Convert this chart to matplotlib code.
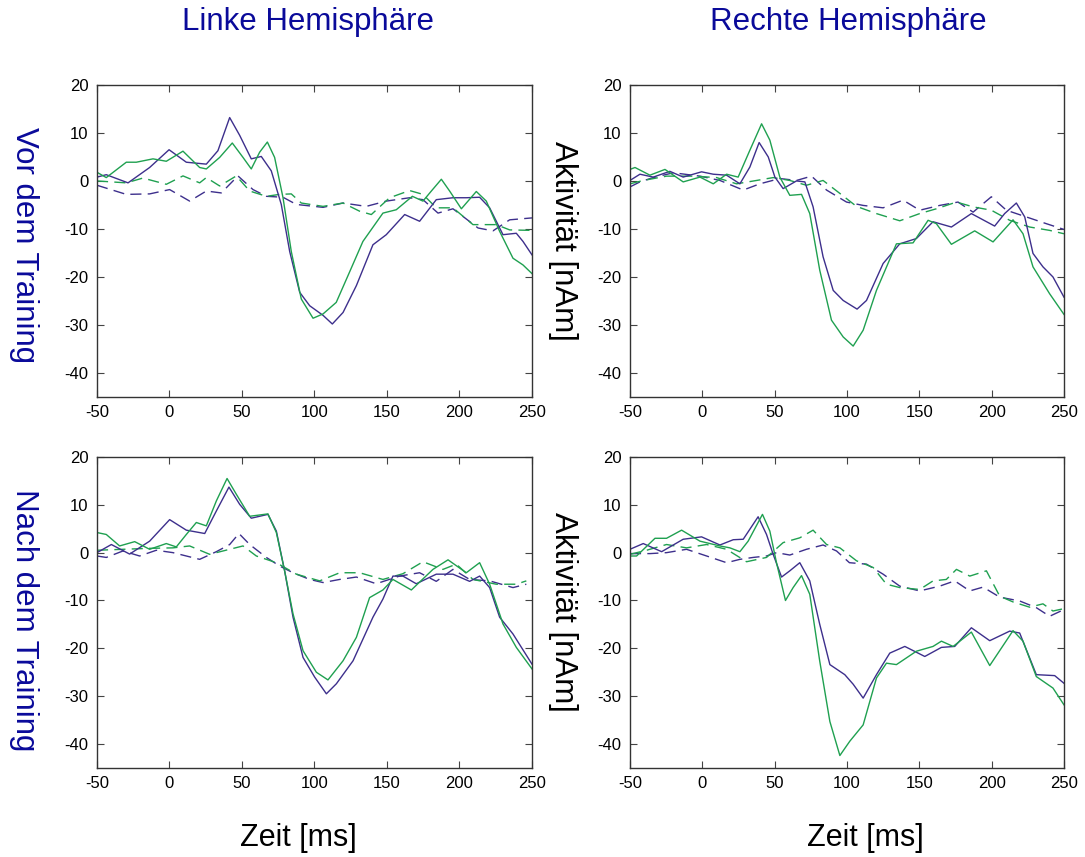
import matplotlib
matplotlib.use('Agg')
import matplotlib.pyplot as plt

plt.rcParams['font.family'] = ['Liberation Sans', 'DejaVu Sans']
plt.rcParams['axes.unicode_minus'] = False

# colours of the two conditions
purple = '#3d2f8c'
green = '#1fa050'
title_blue = '#0a0a9a'

# ---- top left: linke Hemisphaere, vor dem Training ----
tl_p_t = [-50, -43.6, -28.6, -13.7, -0.3, 11.6, 25.4, 33.4, 41.5, 48.4, 56.4, 63.3, 70.2, 77.1, 82.9, 89.8, 96.7,
          105.9, 112.3, 119.7, 128.9, 140.3, 149.5, 162.2, 172.5, 184, 195.5, 204.7, 213.9, 220.8, 230, 239.2, 243.8, 250]
tl_p_v = [0.8, 1.3, -0.4, 2.8, 6.5, 3.9, 3.5, 6.3, 13.2, 9.5, 4.6, 5.1, 2.1, -4.9, -14.7, -23.2, -26,
          -28, -29.8, -27.4, -21.8, -13.3, -11.2, -7, -8.4, -3.9, -3.5, -3.5, -3.4, -5.6, -11.2, -10.9, -12.6, -15.4]
tl_g_t = [-50, -43.6, -29.8, -22.9, -11.4, -2.2, 9.3, 20.8, 25.4, 34.6, 43.3, 50.7, 56.4, 62.2, 67.5, 72.5, 78.3,
          84, 90.9, 99, 105.9, 115, 124.3, 133.4, 147.2, 156.4, 167.5, 174.8, 180.6, 187.5, 193.2, 201.3, 211.6,
          218.5, 227.7, 236.9, 243.8, 250]
tl_g_v = [1.8, 0.7, 3.9, 3.9, 4.6, 4.1, 6.2, 2.8, 2.5, 4.9, 7.9, 4.9, 2.5, 6, 8.1, 4.9, -3.5,
          -14.7, -24.6, -28.6, -27.7, -25.3, -18.9, -12.6, -6.7, -6, -3.2, -4.2, -2.1, 0.35, -2.1, -5.8, -2.2,
          -4.2, -10.5, -16.1, -17.5, -19.3]
tl_pd_t = [-50, -29.8, -13.7, 0.1, 13.9, 25.4, 35.7, 47.2, 57.6, 66.8, 78.3, 87.5, 105.9, 119.7, 135.7, 149.5,
           165.6, 174.8, 185.2, 195.5, 212.8, 223.1, 234.6, 250]
tl_pd_v = [-0.9, -2.8, -2.7, -1.8, -4.2, -2.1, -2.5, 1.05, -1.8, -3.2, -3.4, -4.9, -5.5, -4.6, -5.3, -4.2,
           -3.5, -3.9, -6.7, -5.8, -9.8, -10.4, -8.1, -7.7]
tl_gd_t = [-50, -29.8, -18.3, -2.2, 9.3, 20.8, 25.4, 34.6, 46.1, 55.3, 66.8, 76, 84, 90.9, 105.9, 119.7, 131.1,
           139.2, 151.8, 165.6, 174.8, 184, 195.5, 209.3, 225.4, 234.6, 250]
tl_gd_v = [0, -0.4, 0.6, -0.7, 1.05, -0.4, 0.7, -1.05, 1.05, -2.1, -3.2, -2.8, -2.7, -4.6, -5.3, -4.6, -6.3,
           -7, -3.5, -2, -2.8, -5.6, -5.6, -9.1, -9.1, -10.2, -10.3]

# ---- top right: rechte Hemisphaere, vor dem Training ----
tr_p_t = [-50, -43.1, -33.9, -22.4, -13.2, -0.5, 7.6, 16.8, 26, 32.9, 39.3, 45.6, 50.2, 55.9, 65.1, 70.9, 76.6,
          83.5, 90.5, 97.4, 107, 113.5, 125, 136.5, 148, 159.5, 172.2, 186, 202.1, 209, 217.1, 222.9, 228.6,
          235.5, 242.4, 250]
tr_p_v = [0.1, 1.4, 0.8, 2, 0.8, 1.9, 1.4, 1.2, -0.6, 2.9, 8, 5, 0.8, -1.6, 0, -0.2, -5.4,
          -15.8, -22.8, -24.9, -26.7, -24.9, -17.2, -13.1, -12, -8.5, -9.6, -6.8, -9.4, -6.8, -4.6, -7.5, -15.1,
          -17.9, -20, -24.2]
tr_g_t = [-50, -46.5, -36.2, -25.8, -13.2, -1.6, 7.6, 16.8, 24.8, 32.9, 41, 46.7, 53.6, 60.5, 68.6, 74.3, 81.2,
          89.3, 97.4, 104.3, 111.2, 120.4, 134.2, 145.7, 156.1, 161.8, 172.2, 188.3, 201, 214.8, 221.7, 228.6,
          240.1, 250]
tr_g_v = [2.4, 2.8, 1.2, 2.4, -0.2, 0.8, -0.6, 1.4, 0.8, 6.4, 11.9, 8.5, 0.8, -3, -2.8, -6.8, -18.6,
          -29, -32.5, -34.4, -31.1, -22.8, -13.1, -12.9, -8.2, -8.9, -13.2, -10.4, -12.7, -8.1, -11, -17.9,
          -23.5, -27.8]
tr_pd_t = [-50, -43.1, -33.9, -20, -1.6, 12.2, 28.3, 39.8, 53.6, 65.1, 75.5, 85.9, 99.7, 111.2, 125, 138.8,
           150.3, 164.1, 176.8, 187.2, 199.8, 210.2, 224, 237.8, 250]
tr_pd_v = [-1.25, -0.2, 0.7, 1.7, 1, 0.1, -1.9, -0.6, 0.5, 0.1, 1, -1.9, -4.4, -5.1, -5.6, -4,
           -6.1, -5.1, -4.4, -6.5, -3.3, -6.1, -7.5, -8.9, -10.1]
tr_gd_t = [-50, -40.8, -24.7, -6.3, 9.9, 23.7, 37.5, 49, 60.5, 72, 83.5, 95.1, 106.6, 120.4, 136.5, 150.3,
           161.8, 175.7, 187.2, 199.8, 212.5, 226.3, 240.1, 250]
tr_gd_v = [-0.6, 0.1, 1, 1, 0.7, -0.6, 0.1, 0.7, 0.1, -0.9, 0.1, -2.6, -5.3, -6.8, -8.3, -6.8,
           -5.8, -4.4, -5.4, -6.1, -8.2, -9.6, -10.3, -11]

# ---- bottom left: linke Hemisphaere, nach dem Training ----
bl_p_t = [-50, -40.1, -27.5, -13.7, 0.1, 11.6, 24.3, 32.3, 41, 48.4, 56.4, 67.9, 73.7, 79.4, 85.2, 92.1, 100.1,
          108.2, 115.1, 126.6, 140.3, 147.2, 154.1, 161, 170.2, 184, 195.5, 207, 213.9, 220.8, 227.7, 236.9, 250]
bl_p_v = [0, 1.7, -0.3, 2.4, 6.9, 4.7, 4, 8.7, 13.7, 10.1, 7.2, 8, 4.5, -3.8, -13.5, -21.9, -26,
          -29.5, -27.4, -22.6, -13.5, -9.7, -4.9, -4.9, -6.5, -4.5, -4.5, -6, -4.9, -7.3, -13.5, -17, -23.3]
bl_g_t = [-50, -43.6, -34.4, -24, -13.7, -2.2, 4.7, 11.6, 18.5, 25.4, 32.3, 39.7, 46.1, 55.3, 67.9, 73.7, 79.4,
          85.2, 92.1, 101.3, 109.3, 119.7, 128.9, 138, 147.2, 154.1, 166.8, 181.7, 192.1, 204.7, 213.9, 220.8,
          230, 239.2, 250]
bl_g_v = [4.2, 3.8, 1.4, 2.3, 0.7, 1.9, 1.2, 3.8, 6.3, 5.6, 10.8, 15.5, 12.2, 7.6, 8.1, 4.2, -3.8,
          -12.8, -20.5, -25, -26.6, -22.6, -17.7, -9.4, -7.8, -5.6, -7.8, -3.5, -1.5, -4.2, -2.1, -6.6,
          -14.9, -19.8, -24.3]
bl_pd_t = [-50, -43.6, -32.1, -20.6, -9.1, 2.4, 11.6, 20.8, 32.3, 41.5, 47.9, 55.3, 66.8, 76, 85.2, 96.7, 105.9,
           117.4, 128.9, 142.6, 158.6, 172.5, 184, 195.5, 207, 220.8, 236.9, 246.1]
bl_pd_v = [-0.7, -1, 0.35, -0.7, 0.5, 0, -0.7, -1.4, 0.2, 1.7, 4, 1.7, -1, -2.8, -4.2, -5.6, -6.25,
           -5.6, -5.1, -6.5, -4.9, -4.2, -6, -3.5, -5.6, -5.9, -7.3, -6.6]
bl_gd_t = [-50, -32.1, -13.7, 2.4, 13.9, 27.7, 41.5, 50.7, 59.9, 73.7, 87.5, 103.6, 117.4, 131.1, 147.2, 161,
           174.8, 188.6, 197.8, 209.3, 225.4, 239.2, 246.1]
bl_gd_v = [0.5, 0.7, 0.9, 1, 1.4, -0.35, 0.7, 1.4, -0.7, -2.1, -4.5, -5.9, -4.2, -4.2, -5.6, -4.4,
           -1.9, -3.5, -2.4, -5.6, -6.6, -6.6, -5.9]

# ---- bottom right: rechte Hemisphaere, nach dem Training ----
br_p_t = [-50, -40.8, -28.1, -13.2, -0.5, 12.2, 21.4, 28.3, 38.6, 44.4, 49, 54.8, 60.5, 67.4, 74.3, 81.2, 88.2,
          98.5, 104.3, 111.2, 120.4, 129.6, 140, 153.8, 165.3, 174.5, 186, 198.7, 212.5, 219.4, 230.9, 243.6, 250]
br_p_v = [0.7, 1.9, 0.2, 2.8, 3.3, 1.6, 2.7, 2.8, 7.5, 3.8, -0.35, -5.1, -3.8, -2.1, -5.9, -15, -23.4,
          -25.5, -27.5, -30.4, -25.5, -21, -19.6, -21.7, -19.8, -19.6, -15.7, -18.4, -16.4, -16.8, -25.5, -25.7, -27.3]
br_g_t = [-50, -45.4, -32.7, -24.7, -14.3, -1.6, 12.2, 19.1, 26, 31.7, 41.6, 46.7, 51.3, 57.5, 62.8, 68.6, 74.3,
          81.2, 88.2, 95.1, 102, 111.2, 120.4, 127.3, 134.2, 148, 159.5, 165.3, 173.4, 186, 198.7, 214.8,
          221.7, 230.9, 242.4, 250]
br_g_v = [-0.7, -0.7, 3, 3, 4.7, 2.4, 1.4, 1, 0.2, 2.4, 8, 4.5, -2.1, -10, -7.3, -4.8, -8.7,
          -22.7, -35.3, -42.4, -39.4, -36, -26.2, -23.1, -23.4, -20.6, -19.6, -18.5, -19.6, -16.6, -23.6, -16.3,
          -18.5, -25.9, -28.3, -31.8]
br_pd_t = [-50, -36.2, -24.7, -10.9, 3, 16.8, 26, 35.2, 44.4, 51.3, 60.5, 72, 83.5, 92.8, 101.7, 113.5, 125,
           136.5, 150.3, 164.1, 174.5, 184.9, 194.1, 205.6, 219.4, 230.9, 240.1, 250]
br_pd_v = [-0.2, -0.2, 0, 0.7, -0.7, -2.1, -1.4, -1, -0.7, 0, -0.5, 0.7, 1.6, 0.35, -2.1, -2.4, -4.5,
           -7, -8, -7, -5.9, -8, -7.2, -9.3, -10.1, -11.5, -13.3, -11.9]
br_gd_t = [-50, -38.5, -24.7, -10.9, 3, 16.8, 30.6, 44.4, 55.9, 67.4, 76.6, 85.9, 95.1, 106.6, 118.1, 127.3,
           136.5, 150.3, 159.5, 168.7, 175.7, 184.9, 196.4, 205.6, 214.8, 226.3, 235.5, 242.4, 250]
br_gd_v = [-0.35, 0.5, 1.7, 1, 1.7, 0.7, -1.9, -1, 2.1, 3.1, 4.7, 1.7, 1, -1.7, -3.1, -6.6,
           -7.3, -7.7, -5.9, -5.6, -3.5, -4.9, -3.8, -9.1, -10.3, -11.4, -10.7, -12.2, -11.7]

panels = [
    (tl_p_t, tl_p_v, tl_g_t, tl_g_v, tl_pd_t, tl_pd_v, tl_gd_t, tl_gd_v),
    (tr_p_t, tr_p_v, tr_g_t, tr_g_v, tr_pd_t, tr_pd_v, tr_gd_t, tr_gd_v),
    (bl_p_t, bl_p_v, bl_g_t, bl_g_v, bl_pd_t, bl_pd_v, bl_gd_t, bl_gd_v),
    (br_p_t, br_p_v, br_g_t, br_g_v, br_pd_t, br_pd_v, br_gd_t, br_gd_v),
]

fig = plt.figure(figsize=(10.85, 8.57), dpi=100)

# axes rectangles [left, bottom, width, height] in figure fractions
rects = [
    [0.0894, 0.5368, 0.4009, 0.3641],
    [0.5806, 0.5368, 0.4000, 0.3641],
    [0.0894, 0.1039, 0.4009, 0.3629],
    [0.5806, 0.1039, 0.4000, 0.3629],
]

dash = (0, (8, 4.5))
for rect, (pt, pv, gt, gv, pdt, pdv, gdt, gdv) in zip(rects, panels):
    ax = fig.add_axes(rect)
    ax.plot(pdt, pdv, color=purple, lw=1.0, linestyle=dash, solid_joinstyle='round')
    ax.plot(gdt, gdv, color=green, lw=1.0, linestyle=dash, solid_joinstyle='round')
    ax.plot(pt, pv, color=purple, lw=1.0, solid_joinstyle='round')
    ax.plot(gt, gv, color=green, lw=1.0, solid_joinstyle='round')
    ax.set_xlim(-50, 250)
    ax.set_ylim(-45, 20)
    ax.set_xticks([-50, 0, 50, 100, 150, 200, 250])
    ax.set_yticks([-40, -30, -20, -10, 0, 10, 20])
    ax.tick_params(direction='in', top=True, right=True, length=5, width=0.8,
                   labelsize=12, color='#444444', pad=6)
    for s in ax.spines.values():
        s.set_color('#333333')
        s.set_linewidth(1.0)

# column and row headings
big = 22.5
fig.text(308 / 1085, 1 - 22 / 857, 'Linke Hemisphäre', color=title_blue, fontsize=big, ha='center', va='center')
fig.text(848 / 1085, 1 - 22 / 857, 'Rechte Hemisphäre', color=title_blue, fontsize=big, ha='center', va='center')
fig.text(24 / 1085, 1 - 245 / 857, 'Vor dem Training', color=title_blue, fontsize=big, rotation=-90,
         ha='center', va='center')
fig.text(24 / 1085, 1 - 620 / 857, 'Nach dem Training', color=title_blue, fontsize=big, rotation=-90,
         ha='center', va='center')
fig.text(563 / 1085, 1 - 241 / 857, 'Aktivität [nAm]', color='black', fontsize=big, rotation=-90,
         ha='center', va='center')
fig.text(563 / 1085, 1 - 612 / 857, 'Aktivität [nAm]', color='black', fontsize=big, rotation=-90,
         ha='center', va='center')
fig.text(298 / 1085, 1 - 838 / 857, 'Zeit [ms]', color='black', fontsize=22, ha='center', va='center')
fig.text(865 / 1085, 1 - 838 / 857, 'Zeit [ms]', color='black', fontsize=22, ha='center', va='center')

fig.savefig('out.png', dpi=100)
